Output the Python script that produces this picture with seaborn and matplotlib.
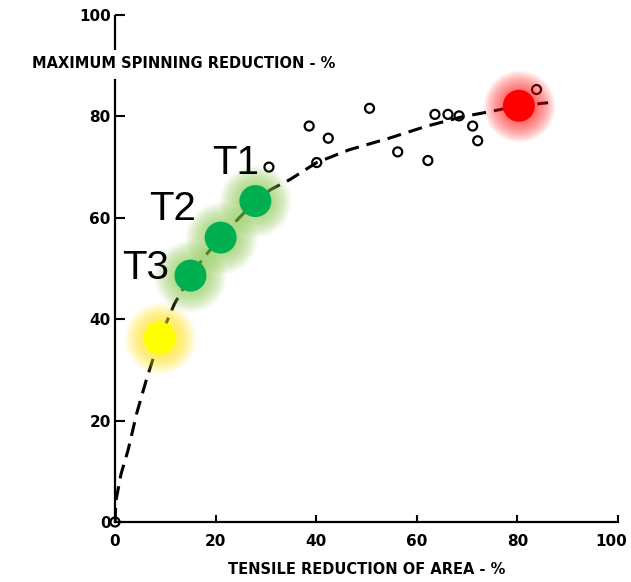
import numpy as np
import pandas as pd
import matplotlib
matplotlib.use("Agg")
import matplotlib.pyplot as plt
import seaborn as sns

# open circles (tensile RA %, max spinning reduction %)
tensile_ra = [0, 30.6, 38.6, 40.1, 42.4, 50.6, 56.2, 62.2, 63.6, 66.2, 68.4, 71.1, 72.1, 83.8]
spin_red = [0, 70.0, 78.1, 70.9, 75.7, 81.6, 73.0, 71.3, 80.4, 80.4, 80.1, 78.1, 75.2, 85.3]

# dashed trend curve
curve_x = [0, 0.2, 1.2, 2.6, 4.3, 6.3, 8.9, 11.8, 15.0, 18.0, 21.0, 24.5, 27.9,
           31.0, 34.7, 40.1, 46.5, 54.5, 61.7, 68.9, 74.3, 80.3, 86.1]
curve_y = [0, 4.3, 9.5, 14.2, 21.4, 28.3, 36.3, 43.0, 48.6, 52.6, 56.1, 59.8, 63.3,
           65.6, 67.5, 70.9, 73.4, 75.7, 78.0, 79.9, 80.9, 82.1, 82.7]

# highlighted conditions
hl_x = [8.9, 15.0, 21.0, 27.9, 80.3]
hl_y = [36.3, 48.6, 56.1, 63.3, 82.1]
hl_colors = ["#FFFF00", "#00B050", "#00B050", "#00B050", "#FF0000"]
glow_colors = ["#FFEE00", "#8FD050", "#8FD050", "#8FD050", "#FF2020"]

# T labels
label_names = ["T1", "T2", "T3"]
label_x = [23.9, 11.4, 6.1]
label_y = [70.9, 61.7, 50.1]

ticks = [0, 20, 40, 60, 80, 100]

sns.set_style("ticks")
plt.rcParams["font.family"] = ["DejaVu Sans"]
plt.rcParams["text.color"] = "black"
plt.rcParams["axes.labelcolor"] = "black"
plt.rcParams["xtick.color"] = "black"
plt.rcParams["ytick.color"] = "black"

fig = plt.figure(figsize=(6.31, 5.82), dpi=100)
ax = fig.add_axes([0.1823, 0.1031, 0.7971, 0.8711])

df_pts = pd.DataFrame({"ra": tensile_ra, "spin": spin_red})
df_curve = pd.DataFrame({"ra": curve_x, "spin": curve_y})

# dashed curve
sns.lineplot(data=df_curve, x="ra", y="spin", sort=False, ax=ax, color="black",
             lw=2.2, zorder=3)
ax.lines[-1].set_linestyle((0, (4.6, 2.6)))

# measured points
sns.scatterplot(data=df_pts, x="ra", y="spin", ax=ax, marker="o", s=42,
                facecolor="none", edgecolor="black", linewidth=1.6, zorder=4,
                clip_on=False)

# soft glow behind the highlighted points
for gx, gy, gc in zip(hl_x, hl_y, glow_colors):
    for r in np.linspace(36, 16, 26):
        d = 2 * r * 0.72
        ax.scatter(gx, gy, s=d ** 2, color=gc, alpha=0.035, lw=0, zorder=5)

sns.scatterplot(x=hl_x, y=hl_y, hue=list(range(len(hl_x))), palette=hl_colors,
                s=530, linewidth=0, legend=False, ax=ax, zorder=6)

for name, tx, ty in zip(label_names, label_x, label_y):
    ax.text(tx, ty, name, fontsize=29, family="Liberation Sans",
            ha="center", va="center", color="black", zorder=7)

ax.set_xlim(0, 100)
ax.set_ylim(0, 100)
ax.set_xticks(ticks)
ax.set_yticks(ticks)
# last x label is placed by hand so it stays inside the figure
xlabels = [str(t) for t in ticks]
ax.set_xticklabels(xlabels[:-1] + [""], fontweight="bold", fontsize=11)
ax.set_yticklabels([str(t) for t in ticks], fontweight="bold", fontsize=11)
ax.annotate(xlabels[-1], xy=(ticks[-1], 0), xytext=(-5, -9),
            textcoords="offset points", ha="center", va="top",
            fontweight="bold", fontsize=11, annotation_clip=False)

sns.despine(ax=ax)
ax.spines["bottom"].set_linewidth(1.6)
ax.spines["left"].set_linewidth(1.6)
ax.spines["bottom"].set_color("black")
ax.spines["left"].set_color("black")
ax.spines["left"].set_bounds(0, 87.2)
ax.vlines(0, 93.1, 100, color="black", lw=1.6, clip_on=False)

ax.tick_params(axis="y", direction="in", length=7, width=1.5, pad=3)
ax.tick_params(axis="x", direction="in", length=5, width=1.5, pad=9)

ax.set_xlabel("TENSILE REDUCTION OF AREA - %", fontweight="bold", fontsize=10.5,
              labelpad=9, color="black")
ax.set_ylabel("")
ax.text(13.7, 90.4, "MAXIMUM SPINNING REDUCTION - %", fontweight="bold",
        fontsize=10.5, ha="center", va="center")

fig.savefig("out.png", dpi=100)
